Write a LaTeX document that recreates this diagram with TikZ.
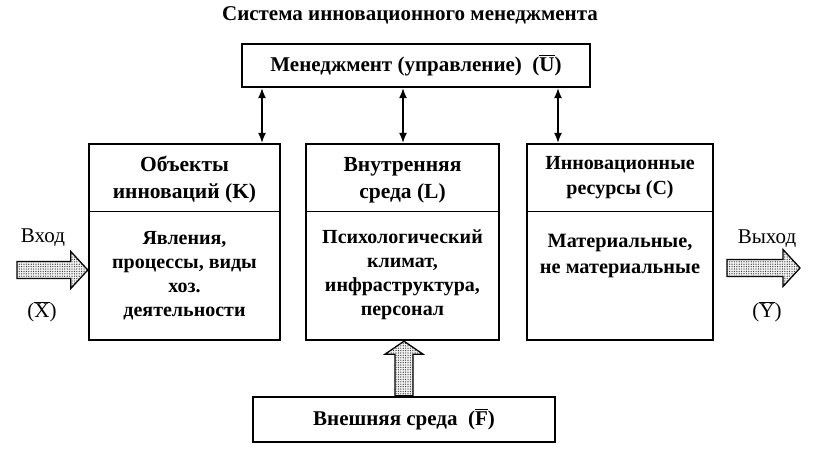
\documentclass[tikz,border=0pt]{standalone}
\usepackage{fontspec}
\setmainfont{Liberation Serif}
\usetikzlibrary{arrows.meta,patterns.meta,calc}
\newcommand\obar[1]{\leavevmode\vbox{\hrule height 1.1pt\kern0.9pt\hbox{#1}}}
\begin{document}
\begin{tikzpicture}[x=1pt,y=-1pt,
  box/.style={draw, line width=2.4pt, inner sep=0pt},
  txt/.style={font=\bfseries\fontsize{20}{24}\selectfont, align=center, inner sep=0pt},
  hdr/.style={font=\bfseries\fontsize{21.5}{27}\selectfont, align=center, inner sep=0pt},
  big/.style={font=\bfseries\fontsize{21}{25}\selectfont, align=center, inner sep=0pt},
  lbl/.style={font=\fontsize{21}{24}\selectfont, inner sep=0pt},
  dbl/.style={line width=1.4pt, {Latex[length=10pt,width=8pt]}-{Latex[length=10pt,width=8pt]}},
  divider/.style={line width=0.9pt},
  blk/.style={draw, line width=1.3pt, fill=black!6, postaction={pattern={Dots[distance=2.4pt,radius=0.6pt]}, pattern color=black!85}}]
\useasboundingbox (0,0) rectangle (816,461);

\node[big] (title) at (410,15) {Система инновационного менеджмента};

\node[box, minimum width=348pt, minimum height=43pt] (M) at (416,65.5) {};
\node[big] (Mt) at (M) {Менеджмент (управление)~~(\obar{U})};

\node[box, minimum width=191pt, minimum height=196pt] (K) at (184.5,242) {};
\node[box, minimum width=193pt, minimum height=196pt] (L) at (402.5,242) {};
\node[box, minimum width=186pt, minimum height=196pt] (C) at (620,242) {};
\node[box, minimum width=302pt, minimum height=45pt] (F) at (404,419.5) {};
\node[big] (Ft) at (F) {Внешняя среда~~(\obar{F})};

\coordinate (dv) at (0,211);
\draw[divider] (K.west |- dv) -- (K.east |- dv);
\draw[divider] (L.west |- dv) -- (L.east |- dv);
\draw[divider] (C.west |- dv) -- (C.east |- dv);

\node[hdr] (Kt) at (184.5,180) {Объекты\\инноваций (K)};
\node[txt] (Kb) at (184.5,276) {Явления,\\процессы, виды\\хоз.\\деятельности};
\node[hdr] (Lt) at (402.5,180) {Внутренняя\\среда (L)};
\node[txt] (Lb) at (402.5,275) {Психологический\\климат,\\инфраструктура,\\персонал};
\node[hdr, font=\bfseries\fontsize{20}{25}\selectfont] (Ct) at (620,178) {Инновационные\\ресурсы (C)};
\node[hdr, font=\bfseries\fontsize{20.3}{26}\selectfont] (Cb) at (620,256) {Материальные,\\не материальные};

\coordinate (a1) at (262,0);
\coordinate (a2) at (403,0);
\coordinate (a3) at (558,0);
\draw[dbl] (K.north -| a1) -- (M.south -| a1);
\draw[dbl] (L.north -| a2) -- (M.south -| a2);
\draw[dbl] (C.north -| a3) -- (M.south -| a3);

% input arrow
\coordinate (inT) at (17,270);
\coordinate (inP) at (K.west |- inT);
\path[blk] ($(inT)+(0,-8.5)$) -- ($(inP)+(-17,-8.5)$) -- ($(inP)+(-17,-18.5)$) -- (inP)
  -- ($(inP)+(-17,18.5)$) -- ($(inP)+(-17,8.5)$) -- ($(inT)+(0,8.5)$) -- cycle;
\node[lbl] (vx) at (43,238) {Вход};
\node[lbl] (vxs) at (42,312) {(\obar{X})};

% output arrow
\coordinate (outT) at (727,268);
\coordinate (outP) at (800,268);
\path[blk] ($(outT)+(0,-8.5)$) -- ($(outP)+(-17,-8.5)$) -- ($(outP)+(-17,-18.5)$) -- (outP)
  -- ($(outP)+(-17,18.5)$) -- ($(outP)+(-17,8.5)$) -- ($(outT)+(0,8.5)$) -- cycle;
\node[lbl] (vy) at (767,239) {Выход};
\node[lbl] (vys) at (767,312) {(\obar{Y})};

% up arrow
\coordinate (up) at (404,0);
\coordinate (upT) at (F.north -| up);
\coordinate (upP) at (L.south -| up);
\path[blk] ($(upT)+(-9,0)$) -- ($(upP)+(-9,13)$) -- ($(upP)+(-19,13)$) -- (upP)
  -- ($(upP)+(19,13)$) -- ($(upP)+(9,13)$) -- ($(upT)+(9,0)$) -- cycle;
\end{tikzpicture}
\end{document}
